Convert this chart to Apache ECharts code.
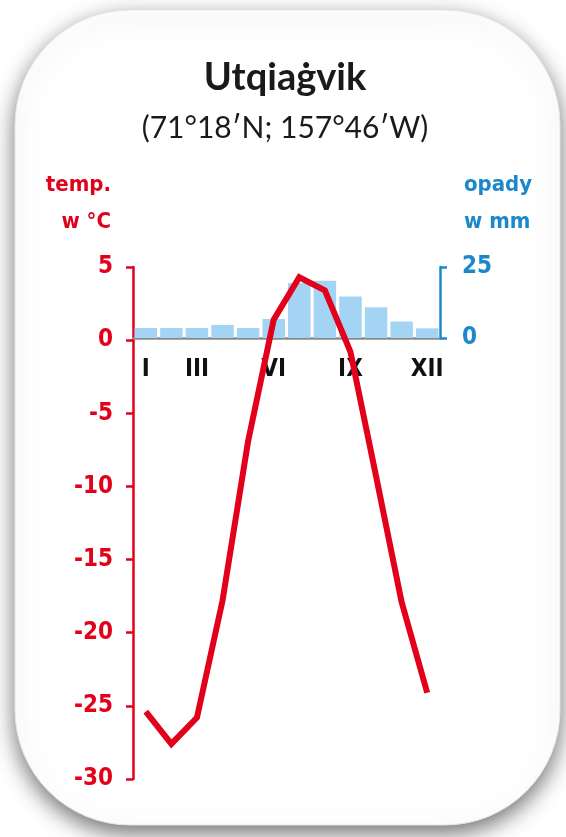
<!DOCTYPE html>
<html>
<head>
<meta charset="utf-8">
<script src="https://cdn.jsdelivr.net/npm/echarts@6/dist/echarts.min.js"></script>
<style>html,body{margin:0;padding:0;background:#fff;}#c{width:566px;height:837px;}</style>
</head>
<body>
<div id="c"></div>
<script>
const months = ['I','II','III','IV','V','VI','VII','VIII','IX','X','XI','XII'];
const shownMonths = ['I','III','VI','IX','XII'];
const temperature = [-25.4, -27.6, -25.8, -17.8, -6.9, 1.4, 4.3, 3.4, -0.8, -9.3, -17.9, -24.1];
const precipitation = [3.5, 3.5, 3.5, 4.6, 3.5, 6.7, 19.4, 20.2, 14.6, 10.8, 5.8, 3.4];
const tempTicks = [-30, -25, -20, -15, -10, -5, 0, 5];
const precipTicks = [0, 25];

const RED = '#e2001a';
const BLUE = '#1b88cc';
const FONT = "'DejaVu Sans Condensed', sans-serif";

const chart = echarts.init(document.getElementById('c'));
chart.setOption({
  backgroundColor: '#fff',
  animation: false,
  graphic: [
    { type: 'rect', z: -10, shape: { x: 15, y: 10, width: 545, height: 815, r: 115 },
      style: { fill: '#fff', stroke: '#e6e6e6', lineWidth: 1, shadowBlur: 22, shadowOffsetY: 8, shadowColor: 'rgba(0,0,0,0.55)' } },
    { type: 'text', x: 285, y: 78, style: { text: 'Utqiaġvik', font: "bold 38px Lato, 'Open Sans', sans-serif", fill: '#1a1a1a', textAlign: 'center', textVerticalAlign: 'middle' } },
    { type: 'text', x: 285, y: 128, style: { text: '(71°18′N; 157°46′W)', font: "30px Lato, 'Open Sans', sans-serif", fill: '#1a1a1a', textAlign: 'center', textVerticalAlign: 'middle' } },
    { type: 'text', x: 111, y: 185, style: { text: 'temp.', font: 'bold 22px ' + FONT, fill: RED, textAlign: 'right', textVerticalAlign: 'middle' } },
    { type: 'text', x: 111, y: 222, style: { text: 'w °C', font: 'bold 22px ' + FONT, fill: RED, textAlign: 'right', textVerticalAlign: 'middle' } },
    { type: 'text', x: 464, y: 185, style: { text: 'opady', font: 'bold 22px ' + FONT, fill: BLUE, textAlign: 'left', textVerticalAlign: 'middle' } },
    { type: 'text', x: 464, y: 222, style: { text: 'w mm', font: 'bold 22px ' + FONT, fill: BLUE, textAlign: 'left', textVerticalAlign: 'middle' } }
  ],
  grid: [
    { left: 133, right: 126, top: 267, bottom: 58 },
    { left: 133, right: 126, top: 267, height: 71 }
  ],
  xAxis: [
    { type: 'category', gridIndex: 0, data: months, show: false, boundaryGap: true },
    { type: 'category', gridIndex: 1, data: months, boundaryGap: true, position: 'bottom',
      axisLine: { show: true, lineStyle: { color: '#8a8a8a', width: 2.5 } },
      axisTick: { show: false },
      axisLabel: { interval: 0, margin: 20, color: '#111', fontSize: 24, fontWeight: 'bold', fontFamily: FONT,
        formatter: v => shownMonths.includes(v) ? v : '' } }
  ],
  yAxis: [
    { type: 'value', gridIndex: 0, min: tempTicks[0], max: tempTicks[tempTicks.length - 1], interval: 5, position: 'left',
      axisLine: { show: true, lineStyle: { color: RED, width: 2.5 } },
      axisTick: { show: true, length: 7, lineStyle: { color: RED, width: 2.5 } },
      axisLabel: { color: RED, fontSize: 24, fontWeight: 'bold', fontFamily: FONT, margin: 20 },
      splitLine: { show: false } },
    { type: 'value', gridIndex: 1, min: precipTicks[0], max: precipTicks[1], interval: 25, position: 'right',
      axisLine: { show: true, lineStyle: { color: BLUE, width: 2.5 } },
      axisTick: { show: true, length: 7, lineStyle: { color: BLUE, width: 2.5 } },
      axisLabel: { color: BLUE, fontSize: 24, fontWeight: 'bold', fontFamily: FONT, margin: 22 },
      splitLine: { show: false } }
  ],
  series: [
    { type: 'bar', xAxisIndex: 1, yAxisIndex: 1, data: precipitation, barCategoryGap: '12%',
      itemStyle: { color: '#a3d4f3' }, z: 1 },
    { type: 'line', xAxisIndex: 0, yAxisIndex: 0, data: temperature, symbol: 'none',
      lineStyle: { color: RED, width: 6, join: 'miter' }, z: 5 }
  ]
});
</script>
</body>
</html>
